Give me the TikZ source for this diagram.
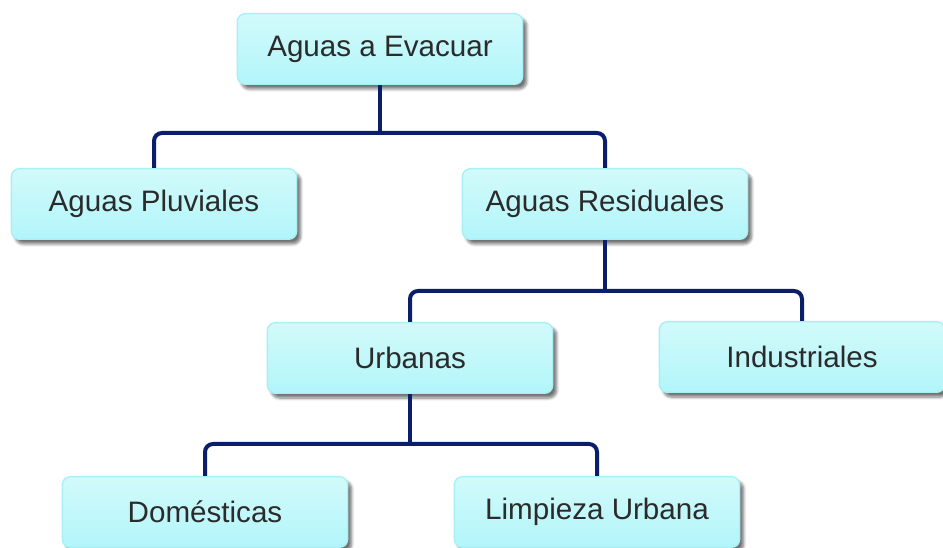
\documentclass[tikz,border=0pt]{standalone}
\usepackage{fontspec}
\setmainfont{Liberation Sans}
\usetikzlibrary{shadows.blur}
\definecolor{navy}{HTML}{0B1E6B}
\definecolor{boxtop}{HTML}{D2FAFA}
\definecolor{boxbot}{HTML}{B2F5FA}
\definecolor{boxedge}{HTML}{A6F0F6}
\definecolor{txt}{HTML}{2B2B2B}
\tikzset{
  box/.style={rectangle, rounded corners=6pt, draw=boxedge, line width=1pt,
    top color=boxtop, bottom color=boxbot,
    minimum width=214pt, minimum height=53pt, inner sep=0pt,
    text=txt, font=\fontsize{22.2}{24}\selectfont,
    blur shadow={shadow xshift=3pt, shadow yshift=-3.5pt, shadow blur steps=6, shadow opacity=55}},
  conn/.style={draw=navy, line width=3pt, rounded corners=6pt}
}
\begin{document}
\begin{tikzpicture}[x=0.75pt,y=-0.75pt]
\useasboundingbox (0,0) rectangle (943,548);
\node[box] (top) at (380,49) {Aguas a Evacuar};
\node[box] (pluv) at (154,204) {Aguas Pluviales};
\node[box] (resid) at (605,204) {Aguas Residuales};
\node[box] (urb) at (410,358) {Urbanas};
\node[box] (ind) at (802,357) {Industriales};
\node[box] (dom) at (205,512) {Domésticas};
\node[box] (limp) at (597,512) {Limpieza Urbana};
\coordinate (j1) at (380,133);
\coordinate (j2) at (605,291);
\coordinate (j3) at (410,444);
\draw[conn] (top.south) -- (j1);
\draw[conn] (pluv.north) |- (j1) -| (resid.north);
\draw[conn] (resid.south) -- (j2);
\draw[conn] (urb.north) |- (j2) -| (ind.north);
\draw[conn] (urb.south) -- (j3);
\draw[conn] (dom.north) |- (j3) -| (limp.north);
\end{tikzpicture}
\end{document}
